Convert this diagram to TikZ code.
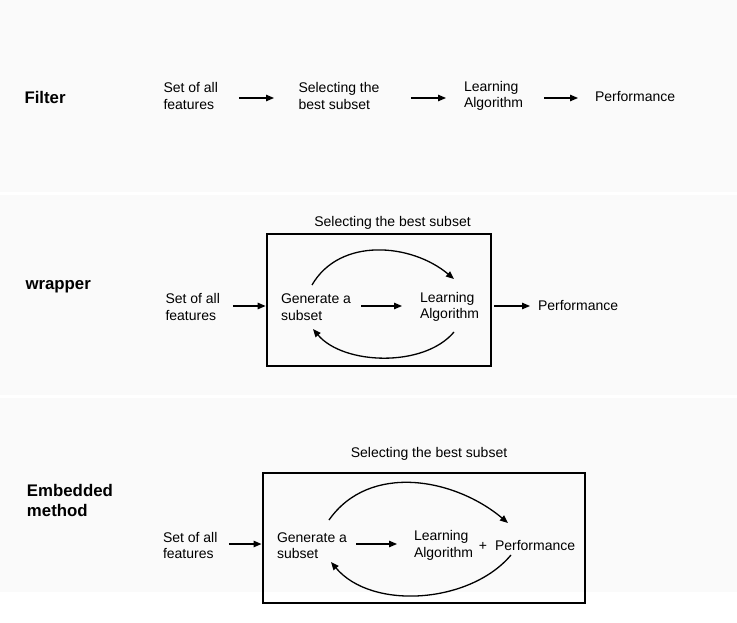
\documentclass[tikz,border=0pt]{standalone}
\usepackage{fontspec}
\setmainfont{Liberation Sans}
\usetikzlibrary{arrows.meta}
\definecolor{bandgray}{HTML}{FAFAFA}

\begin{document}
\begin{tikzpicture}[x=1pt,y=1pt,
  txt/.style={anchor=west,align=left,inner sep=0pt,outer sep=0pt,font=\fontsize{14}{16.5}\selectfont},
  lbl/.style={anchor=west,align=left,inner sep=0pt,outer sep=0pt,font=\fontsize{16.8}{20}\selectfont\bfseries},
  selbox/.style={draw,line width=2pt,inner sep=0pt},
  arr/.style={-{Triangle[length=8pt,width=6.5pt]},line width=1.3pt}]
\useasboundingbox (0,0) rectangle (737,-623);
\fill[white] (0,0) rectangle (737,-623);
% Draw bands
\fill[bandgray] (0,0) rectangle (737,-192);
\fill[bandgray] (0,-195) rectangle (737,-395);
\fill[bandgray] (0,-398) rectangle (737,-592);
% Filter
\node[lbl] (flbl) at (24.5,-97) {Filter};
\node[txt] (fset) at (163.5,-96) {Set of all\\features};
\node[txt] (fsel) at (298.5,-96) {Selecting the\\best subset};
\node[txt] (flearn) at (464,-96) {Learning\\Algorithm};
\node[txt] (fperf) at (595,-97) {Performance};
\draw[arr,shorten <=21pt,shorten >=24.5pt] (fset.east |- 0,-98) -- (fsel.west |- 0,-98);
\draw[arr,shorten <=31.5pt,shorten >=18pt] (fsel.east |- 0,-98) -- (flearn.west |- 0,-98);
\draw[arr,shorten <=21pt,shorten >=17pt] (flearn.east |- 0,-98) -- (fperf.west |- 0,-98);
% wrapper
\node[lbl] (wlbl) at (25.5,-287) {wrapper};
\node[selbox,minimum width=224.4pt,minimum height=132pt] (wbox) at (378.8,-300) {};
\node[txt,anchor=center] (wtitle) at (392.5,-223) {Selecting the best subset};
\node[txt] (wset) at (165.5,-307) {Set of all\\features};
\node[txt] (wgen) at (281,-307) {Generate a\\subset};
\node[txt] (wlearn) at (420,-307) {Learning\\Algorithm};
\node[txt] (wperf) at (538,-306) {Performance};
\draw[arr,shorten <=13pt] (wset.east |- 0,-306) -- (wbox.west |- 0,-306);
\draw[arr,shorten <=10pt,shorten >=18pt] (wgen.east |- 0,-306) -- (wlearn.west |- 0,-306);
\draw[arr,shorten <=2pt,shorten >=8pt] (wbox.east |- wperf) -- (wperf.west);
% wrapper loop
\coordinate (wtop1) at (312,-285);
\coordinate (wtop2) at (454,-279);
\coordinate (wbot1) at (454,-332);
\coordinate (wbot2) at (313,-329);
\draw[arr] (wtop1) to[out=60,in=140] (wtop2);
\draw[arr] (wbot1) to[out=-130,in=-50,looseness=0.85] (wbot2);
% Embedded method
\node[lbl] (elbl) at (27,-500) {Embedded\\method};
\node[selbox,minimum width=322.5pt,minimum height=130pt] (ebox) at (423.75,-538) {};
\node[txt,anchor=center] (etitle) at (429,-454) {Selecting the best subset};
\node[txt] (eset) at (163,-545.5) {Set of all\\features};
\node[txt] (egen) at (277,-545.5) {Generate a\\subset};
\node[txt] (elearn) at (414,-545.5) {Learning\\Algorithm};
\node[txt,anchor=center] (eplus) at (483,-546) {+};
\node[txt] (eperf) at (495,-546) {Performance};
\draw[arr,shorten <=11.5pt] (eset.east |- 0,-544) -- (ebox.west |- 0,-544);
\draw[arr,shorten <=9pt,shorten >=17pt] (egen.east |- 0,-544) -- (elearn.west |- 0,-544);
% Embedded loop
\coordinate (etop1) at (329,-520);
\coordinate (etop2) at (508,-523);
\coordinate (ebot1) at (511,-555);
\coordinate (ebot2) at (331,-562);
\draw[arr] (etop1) to[out=55,in=140] (etop2);
\draw[arr] (ebot1) to[out=-130,in=-50,looseness=0.9] (ebot2);
\end{tikzpicture}
\end{document}
